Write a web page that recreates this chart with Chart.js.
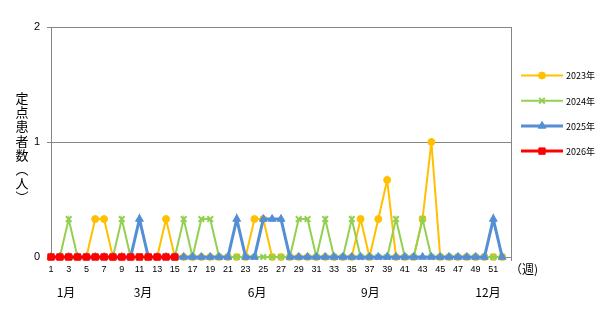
<!DOCTYPE html>
<html>
<head>
<meta charset="utf-8">
<script src="https://cdn.jsdelivr.net/npm/chart.js@4/dist/chart.umd.min.js"></script>
<style>
html, body { margin: 0; padding: 0; background: #fff; }
#wrap { width: 608px; height: 312px; }
</style>
</head>
<body>
<div id="wrap"><canvas id="chart" width="608" height="312"></canvas></div>
<script>
// weeks on the category axis
var weeks = ['1','2','3','4','5','6','7','8','9','10','11','12','13','14','15','16','17','18','19','20',
             '21','22','23','24','25','26','27','28','29','30','31','32','33','34','35','36','37','38','39','40',
             '41','42','43','44','45','46','47','48','49','50','51','52','53'];

// patients per sentinel site, by week
var y2023 = [0,0,0,0,0,0.33,0.33,0,0,0,
             0,0,0,0.33,0,0,0,0,0,0,
             0,0,0,0.33,0.33,0,0,0,0,0,
             0,0,0,0,0,0.33,0,0.33,0.67,0,
             0,0,0.33,1,0,0,0,0,0,0,
             0,0];
var y2024 = [0,0,0.33,0,0,0,0,0,0.33,0,
             0,0,0,0,0,0.33,0,0.33,0.33,0,
             0,0,0,0,0,0,0,0,0.33,0.33,
             0,0.33,0,0,0.33,0,0,0,0,0.33,
             0,0,0.33,0,0,0,0,0,0,0,
             0,0];
var y2025 = [0,0,0,0,0,0,0,0,0,0,
             0.33,0,0,0,0,0,0,0,0,0,
             0,0.33,0,0,0.33,0.33,0.33,0,0,0,
             0,0,0,0,0,0,0,0,0,0,
             0,0,0,0,0,0,0,0,0,0,
             0.33,0];
var y2026 = [0,0,0,0,0,0,0,0,0,0,
             0,0,0,0,0];

var seriesNames = ['2023年', '2024年', '2025年', '2026年'];

// month captions under the axis, placed at a week position
var monthNames = ['1月', '3月', '6月', '9月', '12月'];
var monthWeeks = [2.7, 11.4, 24.3, 37.1, 50.4];

var yTitle = ['定', '点', '患', '者', '数', '︵', '人', '︶'];
var xUnit = '（週)';

var jp = '"Noto Sans CJK JP", "Noto Sans", sans-serif';
var num = '"Liberation Sans", Arial, sans-serif';
var gridCol = '#868686';

var extras = {
    id: 'extras',
    afterDraw: function(chart) {
        var ctx = chart.ctx;
        var xs = chart.scales.x;
        ctx.save();
        ctx.fillStyle = '#000';
        // month captions
        ctx.font = '12px ' + jp;
        ctx.textAlign = 'center';
        ctx.textBaseline = 'middle';
        monthNames.forEach(function(m, i) {
            ctx.fillText(m, xs.getPixelForValue(monthWeeks[i] - 1), 292);
        });
        // unit of x axis
        ctx.textAlign = 'left';
        ctx.fillText(xUnit, 510, 269);
        // vertical y title
        ctx.font = '13px ' + jp;
        ctx.textAlign = 'center';
        yTitle.forEach(function(c, i) {
            ctx.fillText(c, 22, 98 + i * 14.2);
        });
        // legend: line with marker
        chart.data.datasets.forEach(function(ds, i) {
            var y = 75.5 + i * 25.2;
            ctx.strokeStyle = ds.borderColor;
            ctx.lineWidth = ds.borderWidth;
            ctx.beginPath();
            ctx.moveTo(521, y);
            ctx.lineTo(563, y);
            ctx.stroke();
            ctx.fillStyle = ds.pointBackgroundColor;
            ctx.strokeStyle = ds.borderColor;
            ctx.lineWidth = ds.pointBorderWidth;
            Chart.helpers.drawPoint(ctx, {pointStyle: ds.pointStyle, radius: ds.pointRadius, rotation: 0, borderWidth: ds.pointBorderWidth}, 542, y);
            ctx.fillStyle = '#000';
            ctx.font = '9px ' + jp;
            ctx.textAlign = 'left';
            ctx.fillText(ds.label, 566, y + 0.5);
        });
        ctx.restore();
    }
};

var chart = new Chart(document.getElementById('chart').getContext('2d'), {
    type: 'line',
    data: {
        labels: weeks,
        datasets: [{
            label: seriesNames[0],
            data: y2023,
            borderColor: '#FFC000',
            backgroundColor: '#FFC000',
            pointBackgroundColor: '#FFC000',
            borderWidth: 2,
            pointStyle: 'circle',
            pointRadius: 3.5,
            pointBorderWidth: 1,
            order: 3
        }, {
            label: seriesNames[1],
            data: y2024,
            borderColor: '#92D050',
            backgroundColor: '#92D050',
            pointBackgroundColor: '#92D050',
            borderWidth: 2,
            pointStyle: 'crossRot',
            pointRadius: 4,
            pointBorderWidth: 2,
            order: 2
        }, {
            label: seriesNames[2],
            data: y2025,
            borderColor: '#558ED5',
            backgroundColor: '#558ED5',
            pointBackgroundColor: '#558ED5',
            borderWidth: 3,
            pointStyle: 'triangle',
            pointRadius: 4.5,
            pointBorderWidth: 1,
            order: 1
        }, {
            label: seriesNames[3],
            data: y2026,
            borderColor: '#FF0000',
            backgroundColor: '#FF0000',
            pointBackgroundColor: '#FF0000',
            borderWidth: 3,
            pointStyle: 'rect',
            pointRadius: 4.5,
            pointBorderWidth: 1,
            order: 0
        }]
    },
    options: {
        responsive: false,
        animation: false,
        clip: false,
        layout: { padding: { left: 0, right: 97, top: 27, bottom: 0 } },
        elements: { line: { tension: 0 } },
        plugins: {
            legend: { display: false },
            tooltip: { enabled: false }
        },
        scales: {
            x: {
                offset: false,
                grid: {
                    color: function(c) { return c.index === weeks.length - 1 ? gridCol : 'rgba(0,0,0,0)'; },
                    tickLength: 4
                },
                border: { color: gridCol },
                ticks: {
                    autoSkip: false,
                    maxRotation: 0,
                    padding: 3,
                    color: '#000',
                    font: { size: 9, family: num },
                    callback: function(v, i) {
                        return (i % 2 === 0 && i < 52) ? weeks[i] : '';
                    }
                },
                afterFit: function(s) { s.height = 55; }
            },
            y: {
                min: 0,
                max: 2,
                grid: { color: gridCol, tickLength: 4 },
                border: { color: gridCol },
                ticks: {
                    stepSize: 1,
                    padding: 7,
                    color: '#000',
                    font: { size: 11, family: num }
                },
                afterFit: function(s) { s.width = 51; }
            }
        }
    },
    plugins: [extras]
});
</script>
</body>
</html>
